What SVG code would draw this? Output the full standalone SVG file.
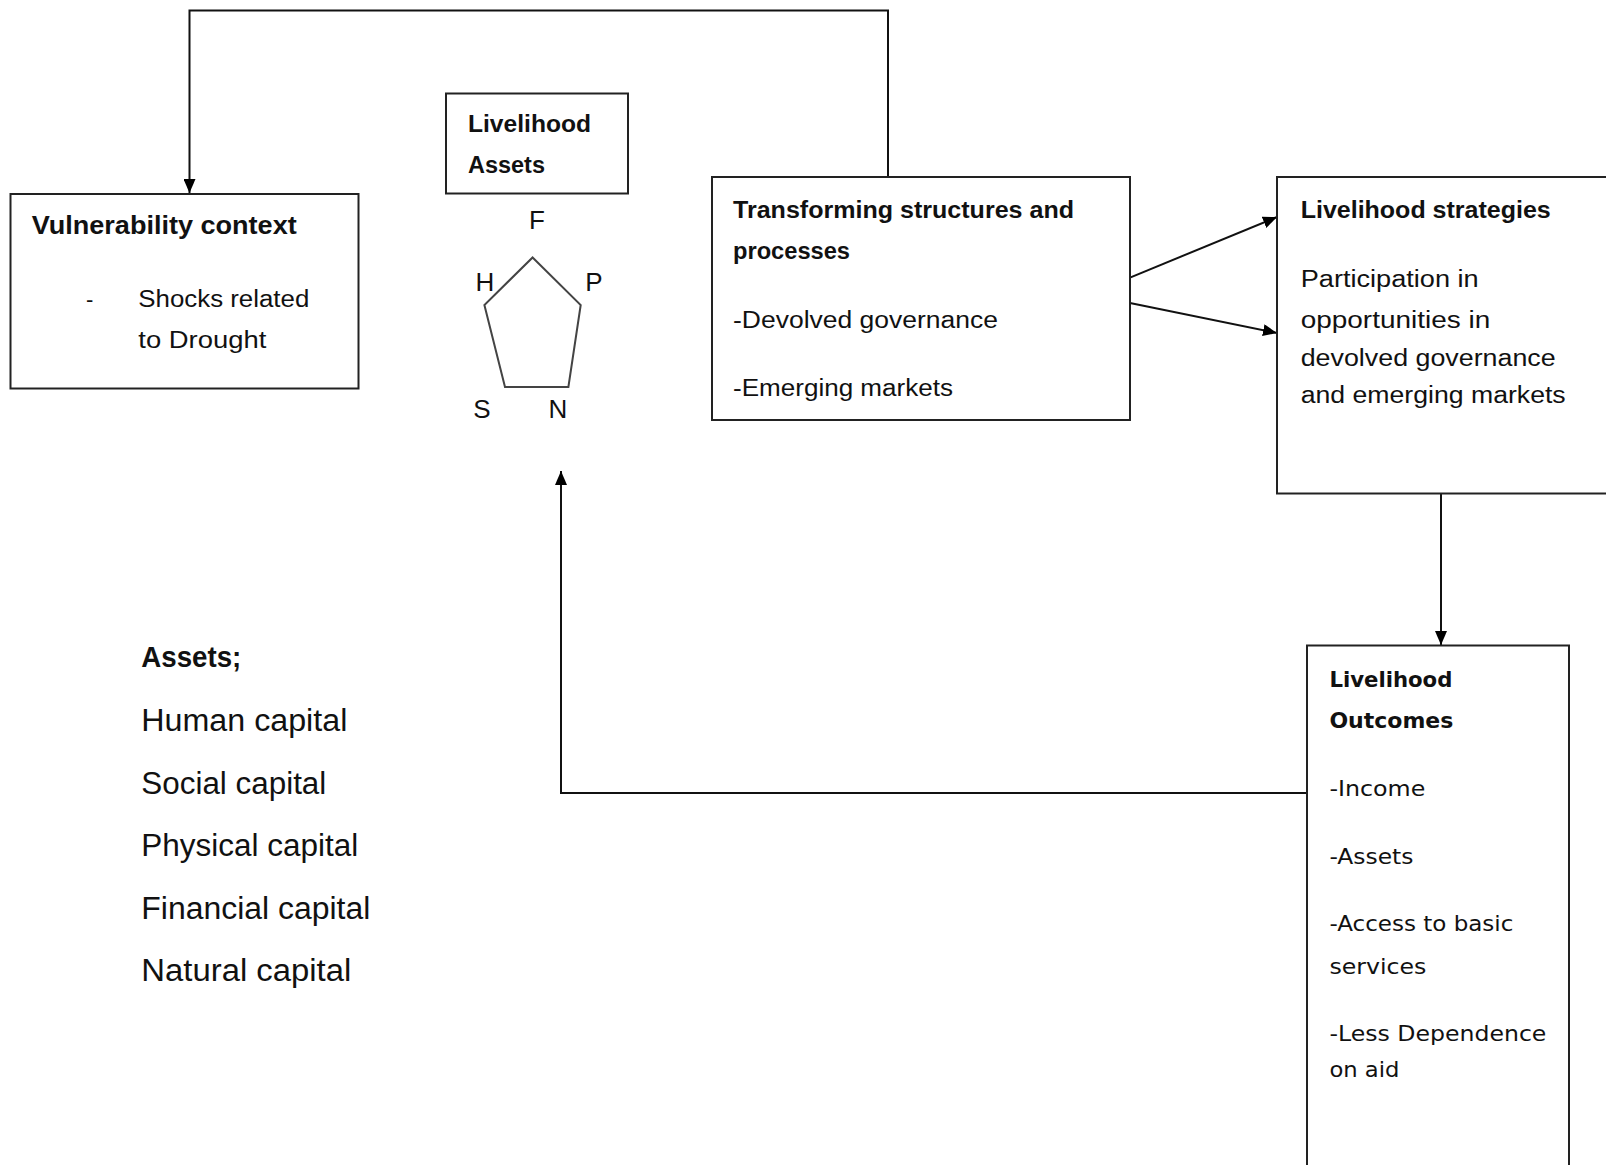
<svg xmlns="http://www.w3.org/2000/svg" width="1606" height="1165" viewBox="0 0 1606 1165">
<defs>
<marker id="arr" viewBox="0 0 14 12" refX="14" refY="6" markerWidth="14" markerHeight="12" markerUnits="userSpaceOnUse" orient="auto">
<path d="M0,0 L14,6 L0,12 z" fill="#000"/>
</marker>
</defs>
<style>
.box{fill:#fff;stroke:#222;stroke-width:2}
.con{fill:none;stroke:#111;stroke-width:2}
.c{font-family:"Liberation Sans",Arial,sans-serif;fill:#111}
.b{font-weight:bold}
.v{font-family:"DejaVu Sans",Verdana,sans-serif;fill:#111}
</style>
<rect width="1606" height="1165" fill="#fff"/>
<g id="connectors">
<polyline class="con" points="888,177 888,10.5 189.5,10.5 189.5,193" marker-end="url(#arr)"/>
<line class="con" x1="1130" y1="277.6" x2="1277" y2="217" marker-end="url(#arr)"/>
<line class="con" x1="1130" y1="303" x2="1277" y2="333" marker-end="url(#arr)"/>
<line class="con" x1="1441" y1="494" x2="1441" y2="645" marker-end="url(#arr)"/>
<polyline class="con" points="1307,793 561,793 561,471" marker-end="url(#arr)"/>
</g>
<g id="vulnerability">
<rect class="box" x="10.5" y="194" width="348" height="194.5"/>
<text class="c b" x="31.7" y="234" font-size="25" textLength="265" lengthAdjust="spacingAndGlyphs">Vulnerability context</text>
<text class="c" x="86" y="307" font-size="22">-</text>
<text class="c" x="138.3" y="307" font-size="23" textLength="171" lengthAdjust="spacingAndGlyphs">Shocks related</text>
<text class="c" x="138.3" y="348" font-size="23" textLength="128" lengthAdjust="spacingAndGlyphs">to Drought</text>
</g>
<g id="livelihood-assets">
<rect class="box" x="446" y="93.5" width="182" height="100"/>
<text class="c b" x="468" y="132" font-size="23" textLength="123" lengthAdjust="spacingAndGlyphs">Livelihood</text>
<text class="c b" x="468" y="173" font-size="23" textLength="77" lengthAdjust="spacingAndGlyphs">Assets</text>
</g>
<g id="pentagon">
<polygon points="532.6,257.5 580.7,305 568.4,387 505,387 484.4,305" fill="none" stroke="#444" stroke-width="2"/>
<text class="c" x="537" y="229" font-size="26" text-anchor="middle">F</text>
<text class="c" x="485" y="291" font-size="26" text-anchor="middle">H</text>
<text class="c" x="594" y="291" font-size="26" text-anchor="middle">P</text>
<text class="c" x="482" y="418" font-size="26" text-anchor="middle">S</text>
<text class="c" x="558" y="418" font-size="26" text-anchor="middle">N</text>
</g>
<g id="transforming">
<rect class="box" x="712" y="177" width="418" height="243"/>
<text class="c b" x="733" y="218" font-size="23" textLength="341" lengthAdjust="spacingAndGlyphs">Transforming structures and</text>
<text class="c b" x="733" y="259" font-size="23" textLength="117" lengthAdjust="spacingAndGlyphs">processes</text>
<text class="c" x="733" y="328" font-size="23" textLength="265" lengthAdjust="spacingAndGlyphs">-Devolved governance</text>
<text class="c" x="733" y="396" font-size="23" textLength="220" lengthAdjust="spacingAndGlyphs">-Emerging markets</text>
</g>
<g id="strategies">
<rect class="box" x="1277" y="177" width="340" height="316.5"/>
<text class="c b" x="1300.7" y="218" font-size="23" textLength="250" lengthAdjust="spacingAndGlyphs">Livelihood strategies</text>
<text class="c" x="1300.7" y="287" font-size="23" textLength="178" lengthAdjust="spacingAndGlyphs">Participation in</text>
<text class="c" x="1300.7" y="328" font-size="23" textLength="189.5" lengthAdjust="spacingAndGlyphs">opportunities in</text>
<text class="c" x="1300.7" y="366" font-size="23" textLength="255" lengthAdjust="spacingAndGlyphs">devolved governance</text>
<text class="c" x="1300.7" y="402.5" font-size="23" textLength="265" lengthAdjust="spacingAndGlyphs">and emerging markets</text>
</g>
<g id="outcomes">
<rect class="box" x="1307" y="645.5" width="262" height="540"/>
<text class="v b" x="1329.4" y="687" font-size="21" textLength="123" lengthAdjust="spacingAndGlyphs">Livelihood</text>
<text class="v b" x="1329.4" y="728" font-size="21" textLength="124" lengthAdjust="spacingAndGlyphs">Outcomes</text>
<text class="v" x="1329.4" y="796" font-size="21" textLength="96" lengthAdjust="spacingAndGlyphs">-Income</text>
<text class="v" x="1329.4" y="864" font-size="21" textLength="84" lengthAdjust="spacingAndGlyphs">-Assets</text>
<text class="v" x="1329.4" y="931" font-size="21" textLength="184" lengthAdjust="spacingAndGlyphs">-Access to basic</text>
<text class="v" x="1329.4" y="974" font-size="21" textLength="97" lengthAdjust="spacingAndGlyphs">services</text>
<text class="v" x="1329.4" y="1040.5" font-size="21" textLength="217" lengthAdjust="spacingAndGlyphs">-Less Dependence</text>
<text class="v" x="1329.4" y="1076.5" font-size="21" textLength="70" lengthAdjust="spacingAndGlyphs">on aid</text>
</g>
<g id="assets-list">
<text class="c b" x="141.3" y="667" font-size="30" textLength="100" lengthAdjust="spacingAndGlyphs">Assets;</text>
<text class="c" x="141.3" y="731" font-size="31" textLength="206" lengthAdjust="spacingAndGlyphs">Human capital</text>
<text class="c" x="141.3" y="794" font-size="31" textLength="185" lengthAdjust="spacingAndGlyphs">Social capital</text>
<text class="c" x="141.3" y="856" font-size="31" textLength="217" lengthAdjust="spacingAndGlyphs">Physical capital</text>
<text class="c" x="141.3" y="919" font-size="31" textLength="229" lengthAdjust="spacingAndGlyphs">Financial capital</text>
<text class="c" x="141.3" y="981" font-size="31" textLength="210" lengthAdjust="spacingAndGlyphs">Natural capital</text>
</g>
</svg>
